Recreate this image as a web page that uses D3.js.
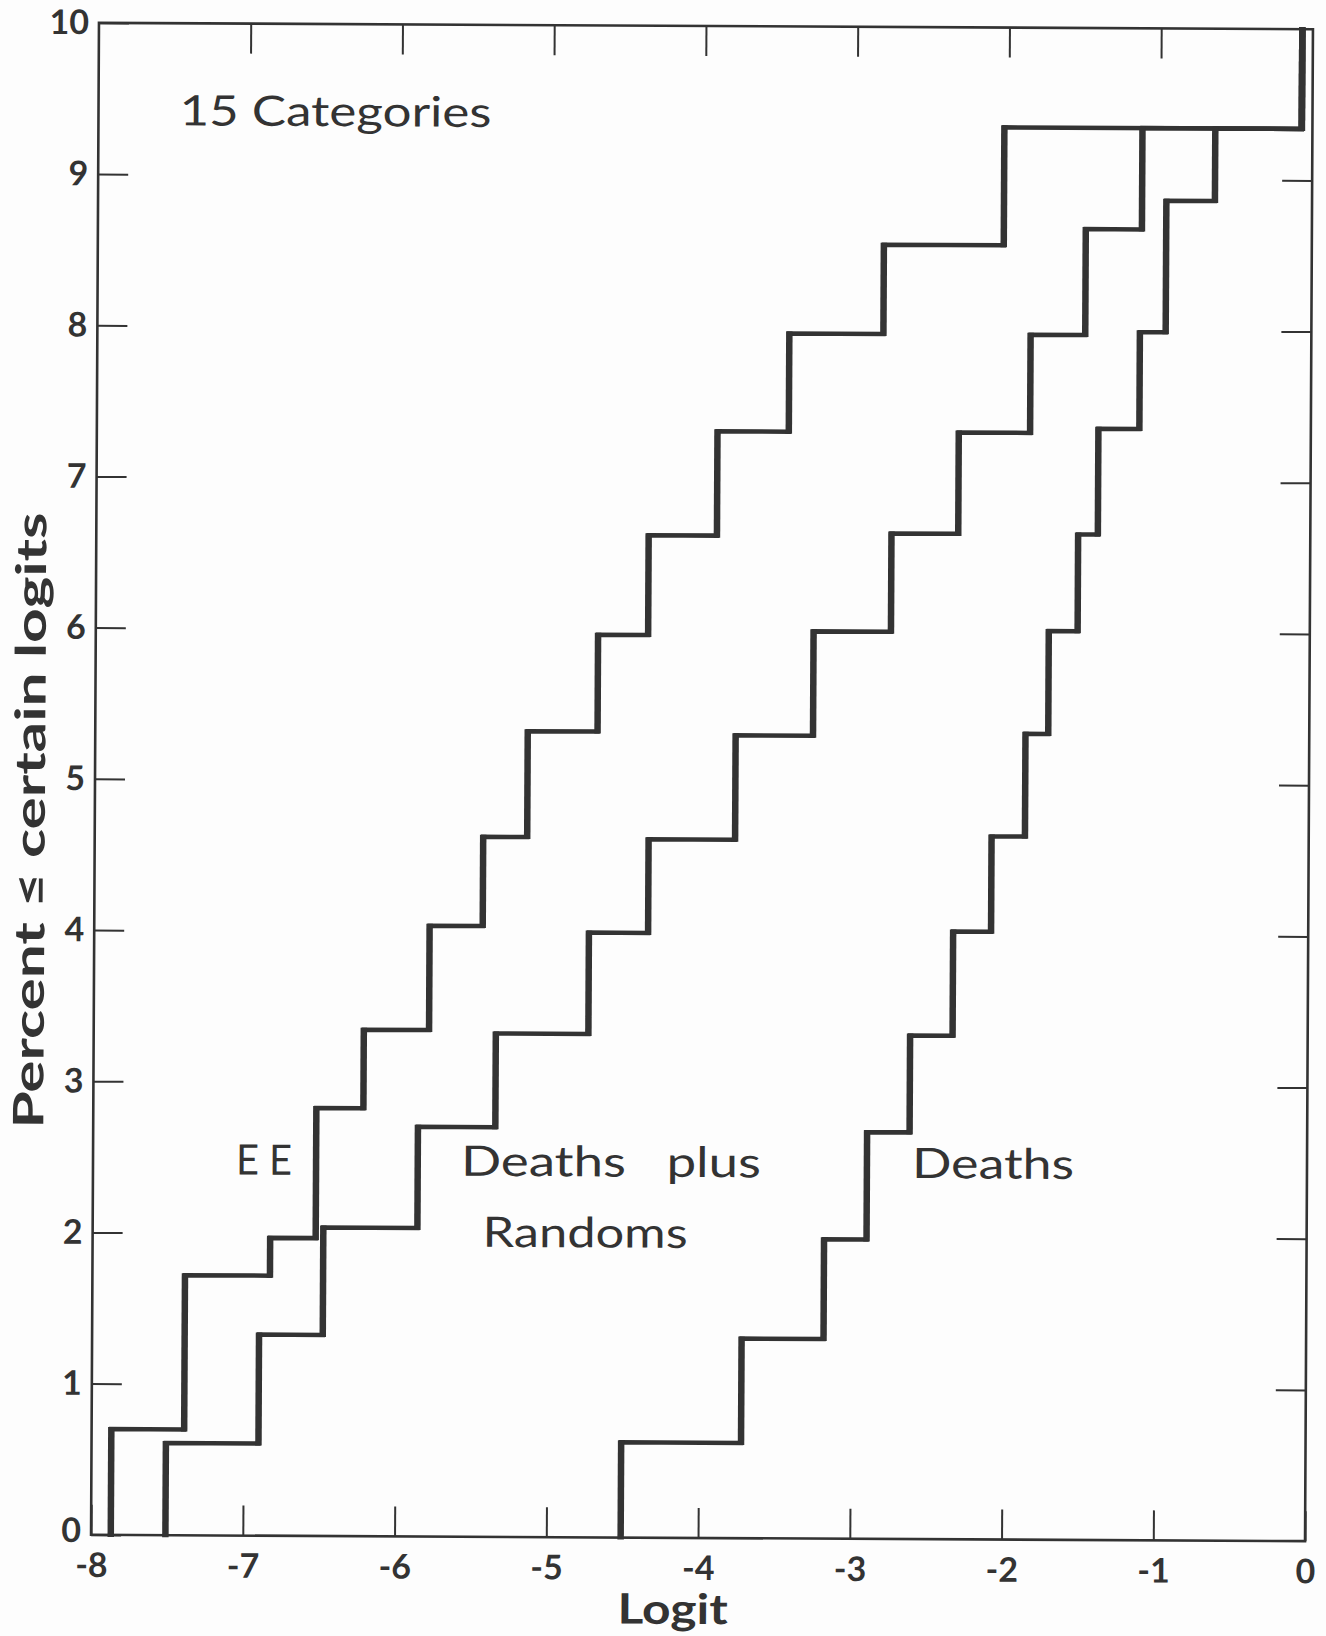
<!DOCTYPE html>
<html>
<head>
<meta charset="utf-8">
<script src="https://cdn.jsdelivr.net/npm/d3@7"></script>
<style>
  body { margin: 0; background: #fdfdfd; }
  svg text { fill: #333; white-space: pre; }
</style>
</head>
<body>
<script>
// tick values
var xTicks = [-8, -7, -6, -5, -4, -3, -2, -1, 0];
var yTicks = [0, 1, 2, 3, 4, 5, 6, 7, 8, 9, 10];

// each curve: logit where the step goes up, and the level it goes up to
var eeJumps  = [-7.87, -7.39, -6.83, -6.53, -6.22, -5.79, -5.44, -5.15, -4.69, -4.36, -3.91, -3.44, -2.82, -2.03, -0.07];
var eeLevels = [0.70, 1.72, 1.97, 2.83, 3.35, 4.04, 4.63, 5.33, 5.97, 6.63, 7.32, 7.97, 8.56, 9.34, 10];

var dprJumps  = [-7.51, -6.90, -6.48, -5.86, -5.35, -4.74, -4.35, -3.78, -3.27, -2.76, -2.32, -1.85, -1.49, -1.12, -0.07];
var dprLevels = [0.61, 1.33, 2.04, 2.71, 3.33, 4.00, 4.62, 5.31, 6.00, 6.65, 7.32, 7.97, 8.67, 9.34, 10];

var deathJumps  = [-4.51, -3.72, -3.18, -2.90, -2.62, -2.34, -2.09, -1.87, -1.72, -1.53, -1.40, -1.13, -0.96, -0.64, -0.07];
var deathLevels = [0.63, 1.32, 1.98, 2.69, 3.33, 4.02, 4.65, 5.33, 6.01, 6.65, 7.35, 7.99, 8.86, 9.34, 10];

var WIDTH = 1326, HEIGHT = 1636;
var LEFT = 95, RIGHT = 1309, TOP = 26, BOTTOM = 1538;
var INK = "#333";
var FONT = "Lato, 'DejaVu Sans', sans-serif";

var svg = d3.select("body").append("svg")
    .attr("width", WIDTH)
    .attr("height", HEIGHT);

// the original scan sits a little crooked
var chart = svg.append("g").attr("transform", "rotate(0.3,702,782)");

var x = d3.scaleLinear().domain([-8, 0]).range([LEFT, RIGHT]);
var y = d3.scaleLinear().domain([0, 10]).range([BOTTOM, TOP]);

// frame
chart.append("rect")
    .attr("x", LEFT).attr("y", TOP)
    .attr("width", RIGHT - LEFT).attr("height", BOTTOM - TOP)
    .attr("fill", "none").attr("stroke", INK).attr("stroke-width", 2.6);

// axes, ticks point inward
var fmt = function(d) { return String(d); };
var gx = chart.append("g").attr("transform", "translate(0," + BOTTOM + ")")
    .call(d3.axisBottom(x).tickValues(xTicks).tickSize(-30).tickSizeOuter(0).tickPadding(18).tickFormat(fmt));
var gy = chart.append("g").attr("transform", "translate(" + LEFT + ",0)")
    .call(d3.axisLeft(y).tickValues(yTicks).tickSize(-30).tickSizeOuter(0).tickPadding(10).tickFormat(fmt));
var gt = chart.append("g").attr("transform", "translate(0," + TOP + ")")
    .call(d3.axisTop(x).tickValues(xTicks.slice(1, -1)).tickSize(-30).tickSizeOuter(0).tickFormat(""));
var gr = chart.append("g").attr("transform", "translate(" + RIGHT + ",0)")
    .call(d3.axisRight(y).tickValues(yTicks.slice(1, -1)).tickSize(-30).tickSizeOuter(0).tickFormat(""));

[gx, gy, gt, gr].forEach(function(g) {
  g.select(".domain").remove();
  g.selectAll(".tick line").attr("stroke", INK).attr("stroke-width", 2);
  g.selectAll(".tick text")
    .attr("font-family", FONT)
    .attr("font-weight", "bold")
    .attr("font-size", 34)
    .attr("fill", INK);
});
// the "0" at the corner sits a touch higher, clear of "-8"
gy.selectAll(".tick text").filter(function(d) { return d === 0; }).attr("dy", "0.2em");

// step curves: lighter on the flats, heavier on the verticals (pen drawn)
var line = d3.line()
    .x(function(d) { return x(d[0]); })
    .y(function(d) { return y(d[1]); })
    .curve(d3.curveStepAfter);

function stepPoints(jumps, levels) {
  var pts = [[jumps[0], 0]];
  jumps.forEach(function(j, i) { pts.push([j, levels[i]]); });
  return pts;
}

var series = [
  stepPoints(eeJumps, eeLevels),
  stepPoints(dprJumps, dprLevels),
  stepPoints(deathJumps, deathLevels)
];

chart.selectAll("path.step")
    .data(series)
    .enter().append("path")
    .attr("class", "step")
    .attr("d", line)
    .attr("fill", "none")
    .attr("stroke", INK)
    .attr("stroke-width", 4.5)
    .attr("stroke-linejoin", "miter");

// the vertical rises drawn a bit heavier
var rises = [];
series.forEach(function(pts) {
  for (var i = 1; i < pts.length; i++) {
    rises.push({ x: pts[i][0], y0: pts[i - 1][1], y1: pts[i][1] });
  }
});
chart.selectAll("line.rise")
    .data(rises)
    .enter().append("line")
    .attr("class", "rise")
    .attr("x1", function(d) { return x(d.x); })
    .attr("x2", function(d) { return x(d.x); })
    .attr("y1", function(d) { return y(d.y0) + 2; })
    .attr("y2", function(d) { return y(d.y1) - 2; })
    .attr("stroke", INK)
    .attr("stroke-width", 6.5);

// text
function label(txt, px, py, size, len, weight) {
  return chart.append("text")
    .attr("x", px).attr("y", py)
    .attr("font-family", FONT)
    .attr("font-size", size)
    .attr("font-weight", weight || "normal")
    .attr("textLength", len)
    .attr("lengthAdjust", "spacingAndGlyphs")
    .text(txt);
}

label("15 Categories", 176, 128, 42, 312);
label("E E", 238, 1177, 42, 56);
label("Deaths   plus", 463, 1177, 42, 300);
label("Randoms", 485, 1248, 42, 205);
label("Deaths", 914, 1177, 42, 162);

label("Logit", 622, 1624, 42, 110, "bold");

chart.append("text")
    .attr("transform", "translate(45,1132) rotate(-90)")
    .attr("font-family", FONT)
    .attr("font-size", 42)
    .attr("font-weight", "bold")
    .attr("textLength", 616)
    .attr("lengthAdjust", "spacingAndGlyphs")
    .text("Percent \u2264 certain logits");
</script>
</body>
</html>
